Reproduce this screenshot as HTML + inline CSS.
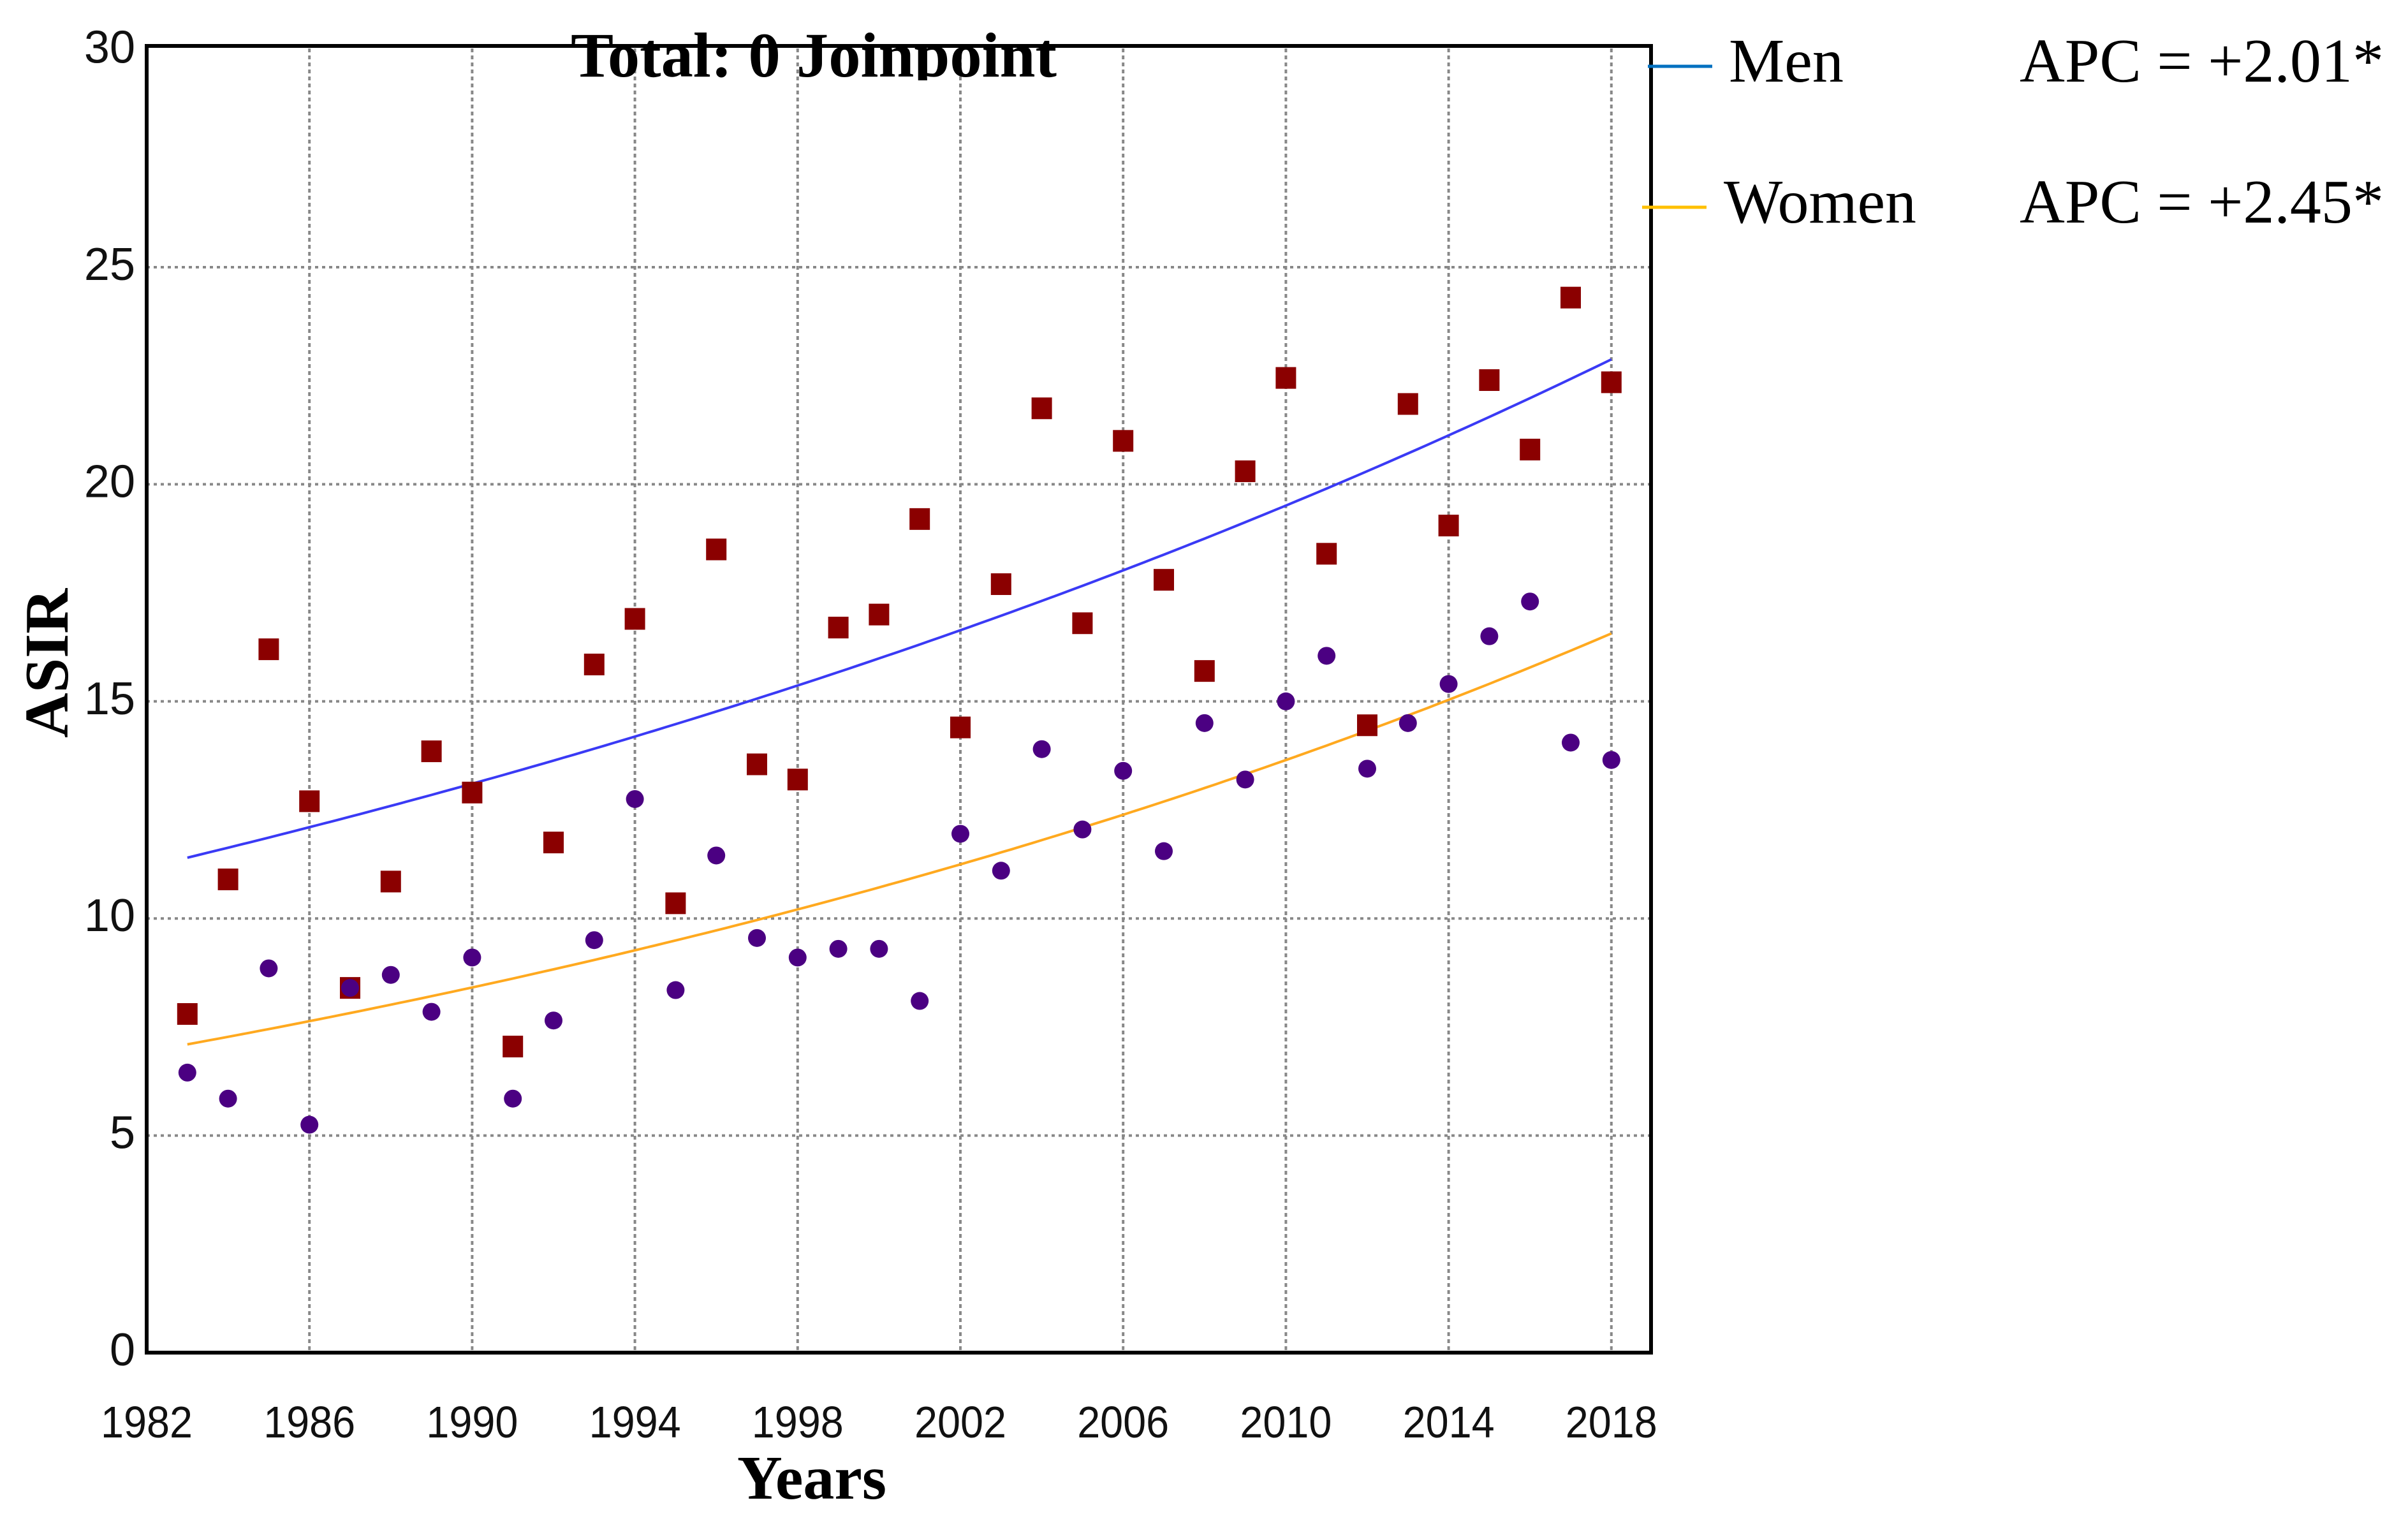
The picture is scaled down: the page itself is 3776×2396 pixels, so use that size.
<!DOCTYPE html>
<html><head><meta charset="utf-8"><style>
html,body{margin:0;padding:0;background:#fff;}
svg{display:block;}
</style></head><body>
<svg id="chart" width="3776" height="2396" viewBox="0 0 3776 2396" xmlns="http://www.w3.org/2000/svg">
<defs><clipPath id="titleClip"><rect x="0" y="0" width="3776" height="126"/></clipPath></defs>
<rect width="3776" height="2396" fill="#fff"/>
<g id="grid"></g>
<g id="trends"></g>
<g id="points"></g>
<rect x="230" y="72" width="2359" height="2049" fill="none" stroke="#000" stroke-width="6"/>
<g id="yticks"></g>
<g id="xticks"></g>
<text x="895" y="120" clip-path="url(#titleClip)" font-family="Liberation Serif, serif" font-weight="bold" font-size="100" textLength="762" lengthAdjust="spacingAndGlyphs">Total: 0 Joinpoint</text>
<text x="1273" y="2350" text-anchor="middle" font-family="Liberation Serif, serif" font-weight="bold" font-size="98">Years</text>
<text x="0" y="0" transform="translate(106,1040) rotate(-90)" text-anchor="middle" font-family="Liberation Serif, serif" font-weight="bold" font-size="98">ASIR</text>
<g>
<line x1="2584" y1="104" x2="2685" y2="104" stroke="#0070c0" stroke-width="5"/>
<text x="2711" y="128" font-family="Liberation Serif, serif" font-size="98" textLength="180" lengthAdjust="spacingAndGlyphs">Men</text>
<text x="3167" y="128" font-family="Liberation Serif, serif" font-size="98" textLength="571" lengthAdjust="spacingAndGlyphs">APC = +2.01*</text>
<line x1="2575" y1="325" x2="2676" y2="325" stroke="#ffc000" stroke-width="5"/>
<text x="2703" y="349" font-family="Liberation Serif, serif" font-size="98" textLength="302" lengthAdjust="spacingAndGlyphs">Women</text>
<text x="3167" y="349" font-family="Liberation Serif, serif" font-size="98" textLength="571" lengthAdjust="spacingAndGlyphs">APC = +2.45*</text>
</g>
</svg>
<script>
const years = [1983,1984,1985,1986,1987,1988,1989,1990,1991,1992,1993,1994,1995,1996,1997,1998,1999,2000,2001,2002,2003,2004,2005,2006,2007,2008,2009,2010,2011,2012,2013,2014,2015,2016,2017,2018];
const menValues = [7.8,10.9,16.2,12.7,8.4,10.85,13.85,12.9,7.05,11.75,15.85,16.9,10.35,18.5,13.55,13.2,16.7,17.0,19.2,14.4,17.7,21.75,16.8,21.0,17.8,15.7,20.3,22.45,18.4,14.45,21.85,19.05,22.4,20.8,24.3,22.35];
const womenValues = [6.45,5.85,8.85,5.25,8.4,8.7,7.85,9.1,5.85,7.65,9.5,12.75,8.35,11.45,9.55,9.1,9.3,9.3,8.1,11.95,11.1,13.9,12.05,13.4,11.55,14.5,13.2,15.0,16.05,13.45,14.5,15.4,16.5,17.3,14.05,13.65];
const menTrendStart = 11.4;
const menAPC = 2.01;
const womenTrendStart = 7.1;
const womenAPC = 2.45;
const yTicks = [0,5,10,15,20,25,30];
const xTicks = [1982,1986,1990,1994,1998,2002,2006,2010,2014,2018];

const NS='http://www.w3.org/2000/svg';
const X0=230, PX=63.8, Y0=2121, PY=68.08;
function xs(yr){return X0+(yr-1982)*PX;}
function ys(v){return Y0-v*PY;}
function mk(tag,attrs,parent){const e=document.createElementNS(NS,tag);for(const k in attrs)e.setAttribute(k,attrs[k]);parent.appendChild(e);return e;}

const grid=document.getElementById('grid');
yTicks.forEach(v=>{ if(v===0||v===30) return;
  const l=mk('line',{x1:X0,x2:2589,y1:ys(v),y2:ys(v),stroke:'#888','stroke-width':4,'stroke-dasharray':'5 6'},grid);
  
  
});
xTicks.forEach(t=>{ if(t===1982) return;
  const l=mk('line',{x1:xs(t),x2:xs(t),y1:76,y2:2118,stroke:'#888','stroke-width':4,'stroke-dasharray':'6 5'},grid);
  
  
});

const yt=document.getElementById('yticks');
yTicks.forEach(v=>{
  const t=mk('text',{x:212,y:ys(v)+20,'text-anchor':'end','font-family':'Liberation Sans, sans-serif','font-size':72,fill:'#111'},yt);
  t.textContent=v;
  
  
});
const xt=document.getElementById('xticks');
xTicks.forEach(v=>{
  const t=mk('text',{x:xs(v),y:2254,'text-anchor':'middle','font-family':'Liberation Sans, sans-serif','font-size':70,textLength:144,lengthAdjust:'spacingAndGlyphs',fill:'#111'},xt);
  t.textContent=v;
  
  
});

const tr=document.getElementById('trends');
function trend(start,apc,color,name){
  let d='';
  for(let yr=years[0];yr<=years[years.length-1];yr+=0.25){
    const v=start*Math.pow(1+apc/100,yr-years[0]);
    d+=(d?'L':'M')+xs(yr).toFixed(1)+','+ys(v).toFixed(1);
  }
  const p=mk('path',{d:d,fill:'none',stroke:color,'stroke-width':4},tr);
  
  
}
trend(menTrendStart,menAPC,'#3a3af5','men-trend-line');
trend(womenTrendStart,womenAPC,'#ffa91f','women-trend-line');

const pts=document.getElementById('points');
years.forEach((yr,i)=>{
  const s=mk('rect',{x:xs(yr)-16,y:ys(menValues[i])-17,width:32,height:34,fill:'#8b0000'},pts);
  
  
  const c=mk('circle',{cx:xs(yr),cy:ys(womenValues[i]),r:14,fill:'#4b0082'},pts);
  
  
});
</script>
</body></html>
